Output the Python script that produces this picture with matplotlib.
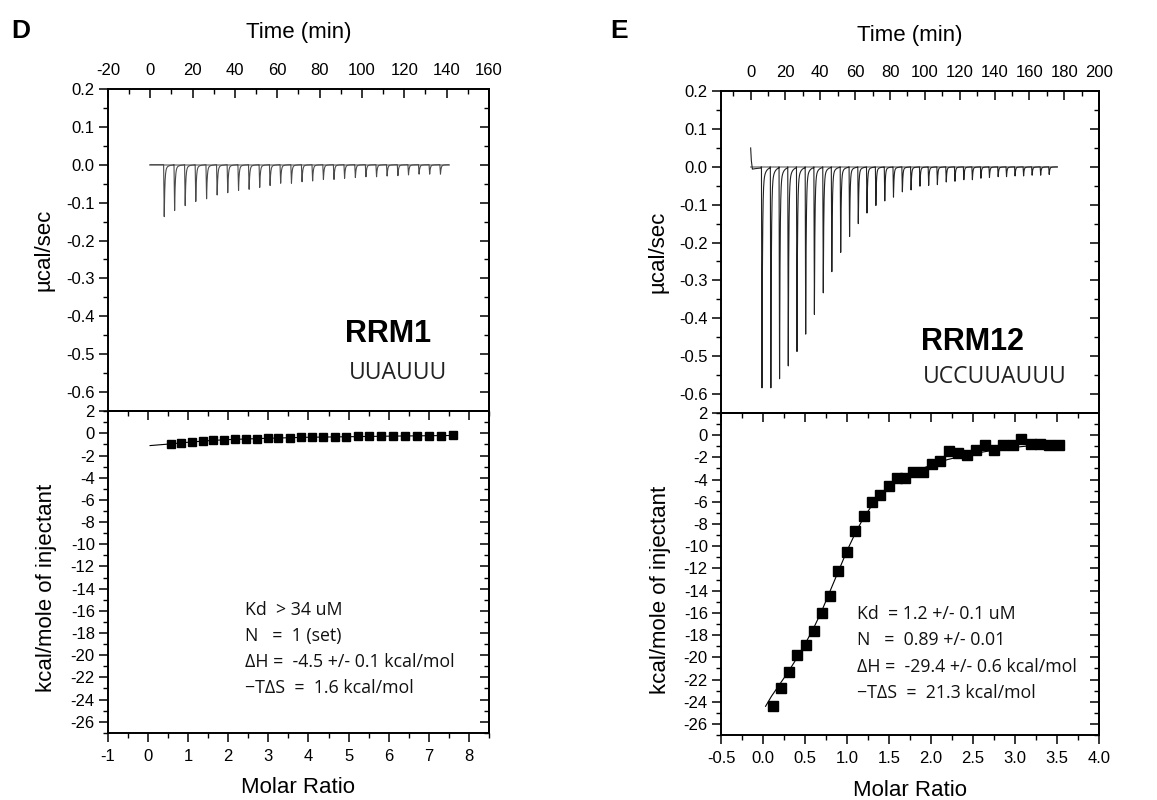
import numpy as np
import matplotlib
matplotlib.use("Agg")
import matplotlib.pyplot as plt
from matplotlib.ticker import MultipleLocator, FormatStrFormatter

plt.rcParams['font.family'] = ['Liberation Sans', 'DejaVu Sans']
plt.rcParams['axes.unicode_minus'] = False

# ---- panel D : RRM1 / UUAUUU ----
d_inj_time = [6.3, 11.2, 16.2, 21.2, 26.3, 31.3, 36.3, 41.4, 46.4, 51.4, 56.3, 61.3, 66.4, 71.4,
              76.4, 81.5, 86.5, 91.5, 96.6, 101.6, 106.6, 111.6, 116.7, 121.7, 126.7, 131.7, 136.8]
d_inj_peak = [-0.137, -0.121, -0.108, -0.097, -0.090, -0.080, -0.074, -0.068, -0.065, -0.060,
              -0.055, -0.049, -0.049, -0.045, -0.043, -0.039, -0.039, -0.036, -0.034, -0.032,
              -0.032, -0.030, -0.029, -0.027, -0.025, -0.025, -0.025]
d_run_end = 141.0

d_ratio = [0.56, 0.83, 1.10, 1.37, 1.63, 1.90, 2.17, 2.44, 2.71, 2.98, 3.25, 3.53, 3.81, 4.08,
           4.36, 4.65, 4.94, 5.23, 5.52, 5.81, 6.11, 6.41, 6.71, 7.01, 7.31, 7.61]
d_heat = [-0.95, -0.85, -0.78, -0.70, -0.62, -0.58, -0.55, -0.50, -0.47, -0.45, -0.42, -0.40,
          -0.37, -0.35, -0.33, -0.31, -0.30, -0.28, -0.27, -0.25, -0.24, -0.23, -0.22, -0.21,
          -0.20, -0.19]
d_fit_x = [0.05, 0.56, 1.0, 1.5, 2.0, 3.0, 4.0, 5.0, 6.0, 7.0, 7.6]
d_fit_y = [-1.10, -0.95, -0.80, -0.66, -0.56, -0.44, -0.35, -0.30, -0.25, -0.21, -0.19]

# ---- panel E : RRM12 / UCCUUAUUU ----
e_inj_time = [6.2, 11.3, 16.3, 21.3, 26.3, 31.3, 36.3, 41.4, 46.3, 51.4, 56.5, 61.5, 66.5, 71.6,
              76.7, 81.7, 86.8, 91.8, 96.9, 101.9, 106.9, 112.0, 117.0, 122.1, 127.0, 131.9,
              136.8, 141.8, 146.6, 151.5, 156.4, 161.3, 166.2, 171.1]
e_inj_peak = [-0.584, -0.584, -0.560, -0.526, -0.488, -0.442, -0.390, -0.333, -0.277, -0.226,
              -0.184, -0.150, -0.122, -0.102, -0.090, -0.080, -0.066, -0.061, -0.051, -0.049,
              -0.047, -0.040, -0.038, -0.034, -0.034, -0.030, -0.028, -0.026, -0.026, -0.024,
              -0.024, -0.022, -0.022, -0.020]
e_start_t = [0.0, 0.3, 1.0, 2.0, 6.0]
e_start_y = [0.050, 0.020, -0.006, -0.005, -0.003]
e_run_end = 176.0

e_ratio = [0.115, 0.214, 0.313, 0.409, 0.508, 0.607, 0.702, 0.798, 0.897, 0.996, 1.095, 1.198,
           1.298, 1.393, 1.496, 1.595, 1.694, 1.790, 1.900, 2.010, 2.107, 2.218, 2.325, 2.430,
           2.536, 2.643, 2.750, 2.860, 2.970, 3.075, 3.187, 3.298, 3.410, 3.520]
e_heat = [-24.35, -22.73, -21.30, -19.80, -18.90, -17.60, -16.00, -14.45, -12.20, -10.50, -8.67,
          -7.26, -6.03, -5.43, -4.62, -3.90, -3.84, -3.33, -3.30, -2.64, -2.37, -1.44, -1.59,
          -1.80, -1.32, -0.90, -1.35, -0.87, -0.90, -0.36, -0.78, -0.78, -0.87, -0.90]
e_fit_x = [0.03, 0.1, 0.2, 0.3, 0.4, 0.5, 0.6, 0.7, 0.8, 0.9, 1.0, 1.1, 1.2, 1.3, 1.4, 1.5, 1.6,
           1.8, 2.0, 2.2, 2.4, 2.6, 2.8, 3.0, 3.2, 3.4, 3.55]
e_fit_y = [-24.4, -23.5, -22.4, -21.3, -20.1, -18.8, -17.4, -15.8, -14.0, -12.2, -10.4, -8.8,
           -7.4, -6.3, -5.4, -4.7, -4.1, -3.3, -2.7, -2.2, -1.85, -1.55, -1.3, -1.1, -0.95,
           -0.85, -0.8]

d_text = ["Kd  > 34 uM", "N   =  1 (set)", "ΔH =  -4.5 +/- 0.1 kcal/mol", "\u2212TΔS  =  1.6 kcal/mol"]
e_text = ["Kd  = 1.2 +/- 0.1 uM", "N   =  0.89 +/- 0.01", "ΔH =  -29.4 +/- 0.6 kcal/mol",
          "\u2212TΔS  =  21.3 kcal/mol"]


def thermogram(times, peaks, t_end, t_start=0.0):
    t = np.arange(t_start, t_end, 0.01)
    y = np.zeros_like(t)
    for t0, p in zip(times, peaks):
        dt = t - t0
        drop = (dt >= 0) & (dt < 0.3)
        y[drop] += p * dt[drop] / 0.3
        rec = (dt >= 0.3) & (dt < 4.9)
        r = dt[rec] - 0.3
        y[rec] += p * (0.9 * np.exp(-r / 0.3) + 0.1 * np.exp(-r / 1.5))
    return t, y


def style_axis(ax, x_major, x_minor, y_major, y_minor, xfmt=None, yfmt=None):
    for s in ax.spines.values():
        s.set_linewidth(1.4)
    ax.xaxis.set_major_locator(MultipleLocator(x_major))
    ax.xaxis.set_minor_locator(MultipleLocator(x_minor))
    ax.yaxis.set_major_locator(MultipleLocator(y_major))
    ax.yaxis.set_minor_locator(MultipleLocator(y_minor))
    if xfmt:
        ax.xaxis.set_major_formatter(FormatStrFormatter(xfmt))
    if yfmt:
        ax.yaxis.set_major_formatter(FormatStrFormatter(yfmt))
    ax.tick_params(which='major', length=6.5, width=1.1, labelsize=12, pad=3)
    ax.tick_params(which='minor', length=3.5, width=1.0)
    ax.tick_params(axis='y', direction='out')
    # right side: ticks pointing inward, no labels
    sec_y = ax.secondary_yaxis('right')
    sec_y.yaxis.set_major_locator(MultipleLocator(y_major))
    sec_y.yaxis.set_minor_locator(MultipleLocator(y_minor))
    sec_y.tick_params(which='both', direction='in', labelright=False, width=1.1)
    sec_y.tick_params(which='major', length=6.5)
    sec_y.tick_params(which='minor', length=3.5, width=1.0)
    sec_y.spines['right'].set_linewidth(1.4)
    return sec_y


def panel(left, width, top_b, top_h, bot_b, bot_h, tlim, tmajor, peaks_t, peaks_y, run_end,
          trace_color, ratio, heat, fit_x, fit_y, xlim, xmajor, xminor, xfmt, msize,
          name, seq, name_xy, seq_xy, stats, stats_xy, letter, letter_x, start=None):
    # --- raw heat trace ---
    ax1 = fig.add_axes([left, top_b, width, top_h])
    t, y = thermogram(peaks_t, peaks_y, run_end)
    if start is not None:
        pre = t < start[0][-1]
        y[pre] = np.interp(t[pre], start[0], start[1])
    ax1.plot([0, run_end], [0, 0], color='#9a9a9a', lw=1.3, zorder=2)
    ax1.plot(t, y, color=trace_color, lw=0.8, zorder=3)
    ax1.set_xlim(*tlim)
    ax1.set_ylim(-0.65, 0.2)
    style_axis(ax1, tmajor, tmajor / 2, 0.1, 0.05, yfmt='%.1f')
    ax1.xaxis.tick_top()
    ax1.tick_params(axis='x', which='both', direction='in', top=True, bottom=False,
                    labeltop=True, labelbottom=False)
    ax1.tick_params(axis='x', which='major', pad=8)
    ax1.spines['bottom'].set_visible(False)
    ax1.text(0.5, 1.174, "Time (min)", transform=ax1.transAxes, ha='center', va='center',
             fontsize=16)
    ax1.text(-0.168, 0.5, "µcal/sec", transform=ax1.transAxes, ha='center', va='center',
             rotation=90, fontsize=16)
    ax1.text(name_xy[0], name_xy[1], name, transform=ax1.transAxes, ha='center', va='center',
             fontsize=22, fontweight='bold')
    ax1.text(seq_xy[0], seq_xy[1], seq, transform=ax1.transAxes, ha='center', va='center',
             fontsize=16.5, family=['Open Sans', 'DejaVu Sans'], color='#222222')
    fig.text(letter_x, 0.961, letter, ha='center', va='center', fontsize=19, fontweight='bold')

    # --- integrated heats ---
    ax2 = fig.add_axes([left, bot_b, width, bot_h])
    ax2.plot(fit_x, fit_y, color='black', lw=0.8, zorder=3)
    ax2.plot(ratio, heat, 's', color='black', markersize=msize, zorder=4)
    ax2.set_xlim(*xlim)
    ax2.set_ylim(-27, 2)
    style_axis(ax2, xmajor, xminor, 2, 1, xfmt=xfmt, yfmt='%d')
    ax2.tick_params(axis='x', which='both', direction='out')
    ax2.tick_params(axis='x', which='major', pad=5)
    sec_x = ax2.secondary_xaxis('top')
    sec_x.xaxis.set_major_locator(MultipleLocator(xmajor))
    sec_x.xaxis.set_minor_locator(MultipleLocator(xminor))
    sec_x.tick_params(which='both', direction='in', labeltop=False, width=1.1)
    sec_x.tick_params(which='major', length=6.5)
    sec_x.tick_params(which='minor', length=3.5, width=1.0)
    sec_x.spines['top'].set_linewidth(1.4)
    ax2.text(0.5, -0.171, "Molar Ratio", transform=ax2.transAxes, ha='center', va='center',
             fontsize=16)
    ax2.text(-0.16, 0.45, "kcal/mole of injectant", transform=ax2.transAxes, ha='center',
             va='center', rotation=90, fontsize=16)
    for i, line in enumerate(stats):
        ax2.text(stats_xy[0], stats_xy[1] - i * 0.081, line, transform=ax2.transAxes,
                 ha='left', va='center', fontsize=12.8, family=['Open Sans', 'DejaVu Sans'],
                 color='#111111')


fig = plt.figure(figsize=(11.57, 8.0), dpi=100)

panel(0.0933, 0.3293, 0.486, 0.403, 0.084, 0.402, (-20, 160), 20,
      d_inj_time, d_inj_peak, d_run_end, '#4a4a4a',
      d_ratio, d_heat, d_fit_x, d_fit_y, (-1, 8.5), 1, 0.5, '%d', 5.8,
      "RRM1", "UUAUUU", (0.735, 0.24), (0.762, 0.12), d_text, (0.36, 0.383), "D", 0.018)

panel(0.6232, 0.3267, 0.484, 0.402, 0.081, 0.403, (-17, 200), 20,
      e_inj_time, e_inj_peak, e_run_end, '#222222',
      e_ratio, e_heat, e_fit_x, e_fit_y, (-0.5, 4.0), 0.5, 0.25, '%.1f', 7.0,
      "RRM12", "UCCUUAUUU", (0.665, 0.22), (0.725, 0.11), e_text, (0.36, 0.375), "E", 0.535,
      start=(e_start_t, e_start_y))

fig.savefig("out.png", dpi=100)
